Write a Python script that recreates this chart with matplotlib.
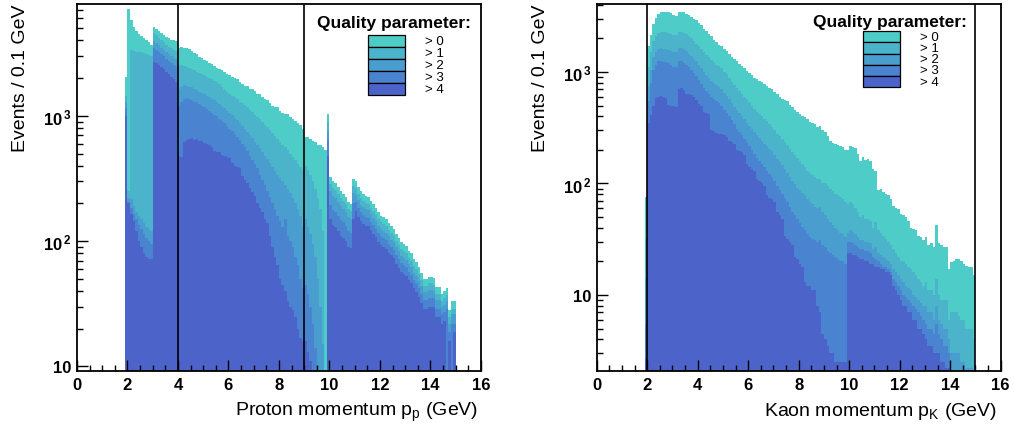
import numpy as np
import matplotlib
matplotlib.use("Agg")
import matplotlib.pyplot as plt
from matplotlib.patches import Rectangle
from matplotlib.ticker import FixedLocator, FixedFormatter, MultipleLocator, LogLocator, NullFormatter

plt.rcParams['font.family'] = ['Liberation Sans', 'DejaVu Sans']
plt.rcParams['mathtext.fontset'] = 'custom'
plt.rcParams['mathtext.rm'] = 'Liberation Sans'
plt.rcParams['mathtext.bf'] = 'Liberation Sans:bold'

# bins of 0.1 GeV starting at 1.9 GeV
bin_start = 1.9
bin_width = 0.1
n_bins = 131

quality_labels = ["> 0", "> 1", "> 2", "> 3", "> 4"]
colors = ["#4ecdc8", "#4bb4cb", "#4a9dcf", "#4a84d0", "#4c64c9"]

# ---- proton momentum, events per bin for quality > 0 ... > 4
proton_q0 = [2050,
             7130, 5760, 5100, 4750, 4500, 4350, 4180, 4020, 3870, 3650,
             5150, 4950, 4750, 4550, 4400, 4250, 4150, 4050, 4000, 3950,
             3500, 3550, 3450, 3450, 3400, 3300, 3150, 3100, 2950, 2900,
             2780, 2750, 2650, 2600, 2500, 2420, 2350, 2300, 2250, 2150,
             2100, 2050, 2000, 1950, 1850, 1800, 1740, 1720, 1650, 1640,
             1580, 1500, 1480, 1400, 1370, 1330, 1260, 1200, 1180, 1170,
             1100, 1060, 1040, 1030, 980, 940, 910, 880, 850, 790,
             680, 680, 650, 630, 620, 590, 580, 560, 530, 1036,
             325, 300, 290, 270, 250, 238, 225, 205, 198, 314,
             300, 270, 250, 238, 230, 225, 210, 198, 185, 171,
             160, 155, 150, 140, 132, 125, 114, 106, 98, 95,
             91, 84, 80, 72, 68, 62, 56, 50, 50, 52,
             52, 51, 43, 43, 38, 40, 42, 28, 33, 33]
proton_q1 = [1450,
             250, 3350, 3300, 3250, 3250, 3200, 3150, 3100, 3050, 3000,
             4600, 4400, 4200, 4000, 3850, 3700, 3550, 3450, 3350, 3300,
             2500, 2550, 2500, 2450, 2400, 2350, 2300, 2250, 2200, 2150,
             2100, 2050, 2000, 1950, 1900, 1850, 1780, 1700, 1620, 1550,
             1500, 1450, 1400, 1350, 1300, 1260, 1220, 1170, 1120, 1070,
             1020, 980, 940, 890, 850, 810, 770, 730, 690, 650,
             620, 590, 560, 530, 500, 470, 440, 410, 390, 360,
             400, 370, 340, 300, 260, 220, 180, 120, 0, 900,
             286, 264, 255, 238, 220, 210, 198, 180, 174, 276,
             264, 238, 220, 209, 202, 198, 185, 174, 163, 150,
             141, 136, 132, 123, 116, 110, 100, 93, 86, 84,
             80, 74, 70, 63, 60, 55, 49, 44, 44, 46,
             46, 45, 38, 38, 33, 35, 37, 25, 29, 29]
proton_q2 = [1300,
             220, 215, 190, 170, 160, 150, 140, 130, 125, 120,
             3950, 3800, 3650, 3500, 3350, 3200, 3100, 3000, 2900, 2850,
             1650, 1700, 1750, 1720, 1700, 1690, 1650, 1600, 1560, 1520,
             1480, 1450, 1420, 1370, 1330, 1280, 1240, 1200, 1150, 1100,
             1060, 1010, 960, 920, 880, 830, 790, 740, 700, 660,
             620, 580, 550, 510, 480, 450, 420, 390, 360, 340,
             320, 300, 280, 260, 240, 220, 200, 180, 160, 130,
             150, 130, 115, 95, 75, 50, 30, 15, 0, 750,
             250, 230, 222, 207, 190, 181, 171, 155, 150, 240,
             234, 211, 195, 186, 179, 176, 164, 154, 144, 133,
             125, 121, 117, 109, 103, 98, 89, 83, 76, 74,
             71, 66, 62, 56, 53, 48, 44, 39, 39, 41,
             41, 40, 34, 34, 30, 31, 33, 22, 26, 26]
proton_q3 = [1150,
             205, 185, 165, 150, 135, 125, 115, 105, 100, 95,
             3500, 3350, 3250, 3100, 3000, 2850, 2750, 2650, 2550, 2500,
             1200, 1300, 1370, 1380, 1370, 1330, 1300, 1280, 1250, 1200,
             1170, 1140, 1100, 1060, 1020, 990, 950, 910, 870, 830,
             790, 760, 720, 680, 640, 600, 560, 520, 480, 440,
             410, 380, 340, 310, 280, 250, 225, 200, 180, 160,
             145, 130, 150, 110, 100, 90, 75, 65, 50, 42,
             45, 38, 30, 22, 14, 8, 5, 3, 0, 650,
             195, 178, 172, 160, 148, 141, 133, 121, 117, 200,
             204, 184, 170, 162, 156, 153, 143, 135, 126, 116,
             109, 105, 102, 95, 90, 85, 78, 72, 67, 65,
             62, 57, 54, 49, 46, 42, 38, 34, 34, 35,
             35, 35, 29, 29, 26, 27, 29, 19, 22, 22]
proton_q4 = [1000,
             200, 165, 145, 120, 100, 90, 80, 75, 72, 72,
             2700, 2650, 2550, 2450, 2350, 2250, 2150, 2050, 1950, 1850,
             480, 470, 620, 640, 650, 660, 640, 650, 635, 630,
             610, 600, 590, 560, 520, 515, 510, 490, 480, 470,
             460, 420, 400, 390, 380, 330, 310, 290, 265, 245,
             230, 200, 185, 170, 150, 140, 110, 90, 75, 65,
             50, 45, 40, 33, 30, 28, 25, 20, 17, 16,
             16, 13, 11, 8, 5, 3, 2, 1, 0, 480,
             150, 135, 130, 120, 110, 105, 100, 90, 88, 150,
             174, 157, 145, 138, 133, 131, 122, 115, 107, 99,
             93, 90, 87, 81, 77, 73, 66, 61, 57, 55,
             53, 49, 46, 42, 39, 36, 32, 29, 29, 30,
             30, 30, 25, 25, 22, 23, 8, 16, 9, 19]

# ---- kaon momentum
kaon_q0 = [75,
           1700, 2150, 2700, 3050, 3300, 3450, 3480, 3450, 3420, 3350,
           3250, 3200, 3480, 3450, 3420, 3330, 3250, 3100, 3000, 2900,
           2750, 2650, 2450, 2350, 2200, 2100, 1950, 1850, 1750, 1700,
           1600, 1550, 1450, 1350, 1300, 1250, 1180, 1140, 1080, 1030,
           980, 930, 890, 860, 830, 810, 780, 750, 720, 700,
           660, 640, 600, 570, 560, 550, 510, 490, 460, 440,
           420, 400, 395, 380, 355, 345, 340, 320, 330, 300,
           290, 265, 240, 230, 225, 220, 215, 212, 200, 198,
           218, 212, 208, 185, 158, 172, 162, 165, 160, 135,
           130, 88, 89, 83, 80, 78, 72, 63, 60, 59,
           53, 52, 50, 46, 40, 39, 38, 34, 33, 31,
           33, 28, 29, 27, 42, 29, 28, 27, 27, 17,
           19.6, 20, 21, 21, 20, 19, 18.3, 18, 18, 15]
kaon_q1 = [32,
           1100, 1500, 1900, 2100, 2250, 2300, 2300, 2280, 2250, 2200,
           2150, 2150, 2300, 2300, 2250, 2200, 2100, 2000, 1900, 1800,
           1700, 1600, 1500, 1420, 1350, 1280, 1220, 1160, 1120, 1080,
           1000, 950, 880, 820, 760, 720, 680, 640, 600, 570,
           540, 500, 470, 440, 420, 400, 380, 360, 340, 320,
           300, 280, 265, 250, 235, 220, 205, 190, 180, 170,
           160, 150, 140, 130, 125, 120, 115, 110, 110, 100,
           100, 95, 90, 85, 80, 78, 75, 72, 68, 65,
           68, 65, 60, 55, 50, 52, 48, 48, 46, 40,
           45, 38, 36, 34, 32, 30, 28, 26, 24, 22,
           20, 20, 19, 18, 17, 16, 15, 14, 13, 12,
           13, 11, 11, 10, 14, 10, 9, 9, 9, 6,
           7, 7, 7, 6.5, 6, 6, 5, 5, 5, 4]
kaon_q2 = [14,
           750, 1050, 1350, 1500, 1600, 1650, 1620, 1600, 1580, 1550,
           1500, 1500, 1650, 1650, 1600, 1550, 1450, 1380, 1300, 1250,
           1150, 1080, 1000, 940, 880, 830, 790, 760, 740, 700,
           650, 610, 570, 530, 490, 460, 430, 400, 375, 350,
           330, 310, 290, 270, 255, 240, 225, 215, 205, 195,
           180, 165, 155, 145, 135, 125, 115, 105, 98, 92,
           88, 82, 78, 72, 68, 65, 62, 60, 62, 55,
           52, 48, 45, 42, 40, 38, 36, 35, 33, 36,
           38, 37, 35, 33, 31, 31, 30, 30, 29, 26,
           27, 24, 23, 22, 21, 20, 19, 17, 16, 15,
           14, 13, 12, 11.5, 11, 10, 9.5, 9, 8.5, 8,
           8, 7, 7, 6, 8, 6, 5.5, 5, 5, 4,
           3, 3, 3, 3, 2.5, 2.5, 2.2, 2.2, 2.2, 1.8]
kaon_q3 = [5.5,
           550, 800, 1050, 1150, 1250, 1250, 1230, 1220, 1200, 1150,
           1100, 1100, 1250, 1250, 1200, 1150, 1100, 1050, 980, 920,
           850, 780, 720, 670, 630, 600, 570, 545, 525, 500,
           460, 430, 400, 370, 340, 310, 290, 270, 250, 235,
           215, 200, 185, 170, 160, 150, 140, 130, 122, 115,
           105, 95, 88, 80, 74, 68, 62, 56, 52, 48,
           44, 41, 38, 35, 33, 32, 31, 30, 31, 28,
           27, 25, 24, 23, 22, 21, 20, 20, 19, 30,
           30, 29, 28, 27, 26, 26, 25, 25, 24, 22,
           21, 20, 19, 18, 18, 17, 16, 14, 13, 12,
           11, 10, 9.5, 9, 8.5, 8, 7.5, 7, 6.5, 6,
           5.5, 5, 5, 4.5, 5.5, 4.5, 4, 3.5, 3.5, 3,
           2, 2, 2, 2, 1.8, 1.8, 1.5, 1.5, 1.5, 1.2]
kaon_q4 = [2.7,
           350, 410, 500, 580, 600, 610, 600, 590, 510, 500,
           500, 490, 700, 714, 690, 640, 630, 620, 600, 555,
           520, 500, 440, 430, 420, 300, 295, 285, 280, 275,
           270, 260, 240, 235, 225, 200, 195, 190, 180, 150,
           140, 135, 130, 110, 105, 100, 95, 78, 74, 72,
           68, 55, 52, 48, 34, 32, 30, 28, 22, 21,
           19, 18, 13, 12, 12, 11, 11, 8, 7, 4.5,
           4, 3.5, 3, 3, 2.5, 2.5, 2.5, 2.5, 2.5, 24,
           24, 23, 23, 22, 21, 21, 20, 20, 19, 19,
           18, 18, 17, 17, 16, 16, 15, 12, 11, 10,
           9, 8, 8, 7, 7, 6, 6, 5, 5, 4.5,
           4, 3.5, 3.5, 3, 3, 3, 2.5, 2.5, 2.2, 2.2,
           1.5, 1.5, 1.5, 1.5, 1.5, 1.5, 1, 1, 1, 1]

proton_cuts = [4, 9]
kaon_cuts = [2, 15]


def draw_panel(ax, series, ylim, cuts, xlabel, ytick_labels, legend_pos):
    edges = np.round(bin_start + bin_width * np.arange(n_bins + 1), 2)
    floor = ylim[0] * 0.5
    for vals, c in zip(series, colors):
        v = np.clip(np.asarray(vals, dtype=float), floor, None)
        ax.stairs(v, edges, fill=True, color=c, baseline=floor, linewidth=0)

    for xc in cuts:
        ax.axvline(xc, color="black", linewidth=1.2)

    ax.set_yscale("log")
    ax.set_xlim(0, 16)
    ax.set_ylim(*ylim)

    ax.xaxis.set_major_locator(MultipleLocator(2))
    ax.xaxis.set_minor_locator(MultipleLocator(0.5))
    ax.yaxis.set_major_locator(FixedLocator([10, 100, 1000]))
    ax.yaxis.set_major_formatter(FixedFormatter(ytick_labels))
    ax.yaxis.set_minor_locator(LogLocator(base=10, subs=np.arange(2, 10)))
    ax.yaxis.set_minor_formatter(NullFormatter())

    ax.tick_params(which="both", direction="in", top=False, right=False, width=1.0)
    ax.tick_params(which="major", length=8, labelsize=12, pad=4)
    ax.tick_params(which="minor", length=4.5)
    for lab in ax.get_xticklabels() + ax.get_yticklabels():
        lab.set_fontweight("bold")
    for sp in ax.spines.values():
        sp.set_linewidth(1.3)

    ax.set_ylabel("Events / 0.1 GeV", fontsize=14, loc="top")
    ax.yaxis.set_label_coords(-0.118, 1.0)
    ax.set_xlabel(xlabel, fontsize=14, loc="right")
    ax.xaxis.label.set_verticalalignment("top")

    # legend box drawn in axes coordinates
    tx, ty, sx0, sx1, sy, sh, lx = legend_pos
    ax.text(tx, ty, "Quality parameter:", transform=ax.transAxes,
            fontsize=12.5, fontweight="bold", ha="left", va="center")
    for i, (lab, c) in enumerate(zip(quality_labels, colors)):
        y0 = sy - (i + 1) * sh
        ax.add_patch(Rectangle((sx0, y0), sx1 - sx0, sh, transform=ax.transAxes,
                               facecolor=c, edgecolor="black", linewidth=0.9,
                               zorder=5))
        ax.text(lx, y0 + sh / 2, lab, transform=ax.transAxes, fontsize=9.5,
                ha="left", va="center", zorder=5)


fig = plt.figure(figsize=(10.14, 4.27), dpi=100)
ax1 = fig.add_axes([0.0759, 0.1288, 0.3984, 0.8595])
ax2 = fig.add_axes([0.5885, 0.1288, 0.3984, 0.8595])

draw_panel(ax1, [proton_q0, proton_q1, proton_q2, proton_q3, proton_q4],
           (9.2, 7800), proton_cuts,
           r"Proton momentum p$_{\mathregular{p}}$ (GeV)",
           ["10", r"$\mathbf{10^{\,2}}$", r"$\mathbf{10^{\,3}}$"],
           (0.594, 0.950, 0.720, 0.812, 0.9155, 0.0327, 0.861))
draw_panel(ax2, [kaon_q0, kaon_q1, kaon_q2, kaon_q3, kaon_q4],
           (2.08, 4070), kaon_cuts,
           r"Kaon momentum p$_{\mathregular{K}}$ (GeV)",
           ["10", r"$\mathbf{10^{\,2}}$", r"$\mathbf{10^{\,3}}$"],
           (0.535, 0.951, 0.659, 0.751, 0.926, 0.0305, 0.800))
ax1.xaxis.set_label_coords(0.993, -0.078)
ax2.xaxis.set_label_coords(0.990, -0.078)

fig.savefig("out.png", dpi=100)
